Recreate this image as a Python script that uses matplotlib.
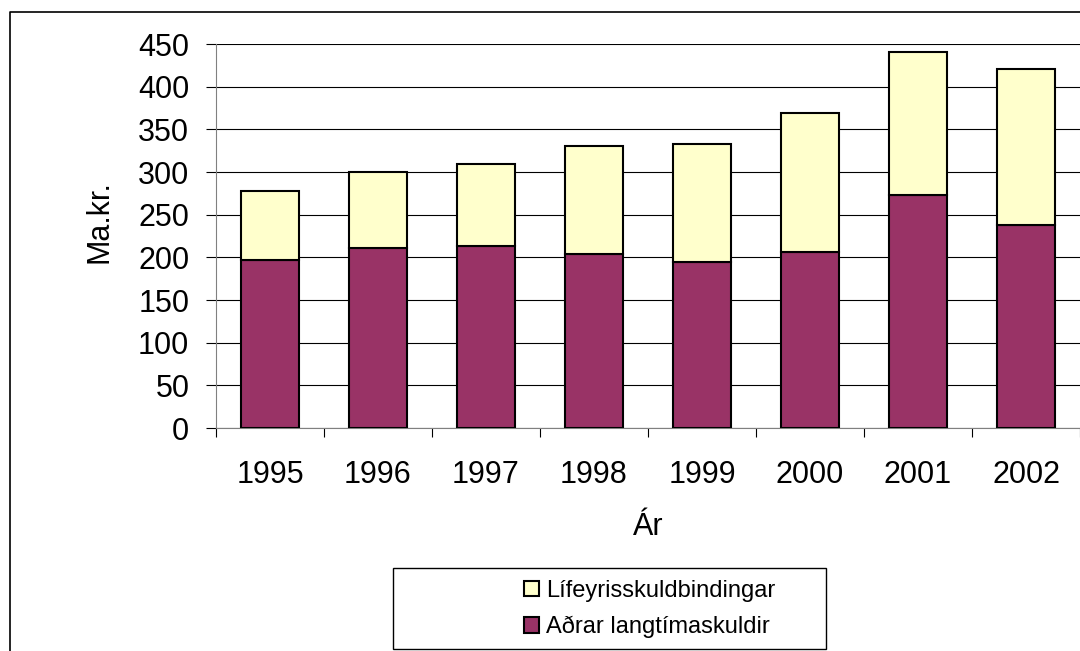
import matplotlib.pyplot as plt
from matplotlib.patches import Rectangle
from matplotlib.lines import Line2D
import numpy as np

plt.rcParams['font.family'] = ['Liberation Sans', 'DejaVu Sans']

years = ['1995', '1996', '1997', '1998', '1999', '2000', '2001', '2002']
adrar = [197, 211, 213, 204, 195, 206, 273, 238]
lifeyris = [81, 89, 96, 127, 138, 163, 168, 183]

fig = plt.figure(figsize=(10.8, 6.51), dpi=100)
ax = fig.add_axes([216/1080, 223/651, 864/1080, 384/651])

x = np.arange(len(years))
b1 = ax.bar(x, adrar, width=0.54, color='#993366', edgecolor='black', linewidth=1.5,
            label='Aðrar langtímaskuldir', zorder=3)
b2 = ax.bar(x, lifeyris, bottom=adrar, width=0.54, color='#FFFFCC', edgecolor='black',
            linewidth=1.5, label='Lífeyrisskuldbindingar', zorder=3)

ax.set_xlim(-0.5, 7.5)
ax.set_ylim(0, 450)
ax.set_yticks(range(0, 451, 50))
ax.yaxis.grid(True, color='black', linewidth=0.8, zorder=0)
ax.set_axisbelow(True)

ax.set_xticks(x)
ax.set_xticklabels(years)
ax.set_xticks(np.arange(-0.5, 8, 1), minor=True)
ax.tick_params(axis='x', which='major', length=0, pad=23, labelsize=22)
ax.tick_params(axis='x', which='minor', length=6.5, width=0.8, color='black')
ax.tick_params(axis='y', length=7.2, width=0.8, pad=12, labelsize=22)

for s in ['top', 'right']:
    ax.spines[s].set_visible(False)
ax.spines['left'].set_color('#808080')
ax.spines['bottom'].set_color('#808080')

fig.text(100/1080, 1 - 222/651, 'Ma.kr.', rotation=90, ha='center', va='center', fontsize=22)
fig.text(648/1080, 1 - 527/651, 'Ár', ha='center', va='center', fontsize=22)

# chart area border (only left and top visible)
fig.add_artist(Line2D([10/1080, 10/1080, 1.0], [0, 1 - 12/651, 1 - 12/651],
                      transform=fig.transFigure, color='black', linewidth=1.2))

# legend box
fig.add_artist(Rectangle((393/1080, 1 - 649/651), (826 - 393)/1080, (649 - 568)/651,
                         transform=fig.transFigure, facecolor='white',
                         edgecolor='black', linewidth=1.0))
fig.legend(handles=[b2, b1], loc='center', bbox_to_anchor=(650/1080, 1 - 609/651),
           frameon=False, fontsize=17, handlelength=0.64, handleheight=0.64,
           handletextpad=0.3, labelspacing=0.6, borderpad=0)

fig.savefig('out.png', dpi=100)
